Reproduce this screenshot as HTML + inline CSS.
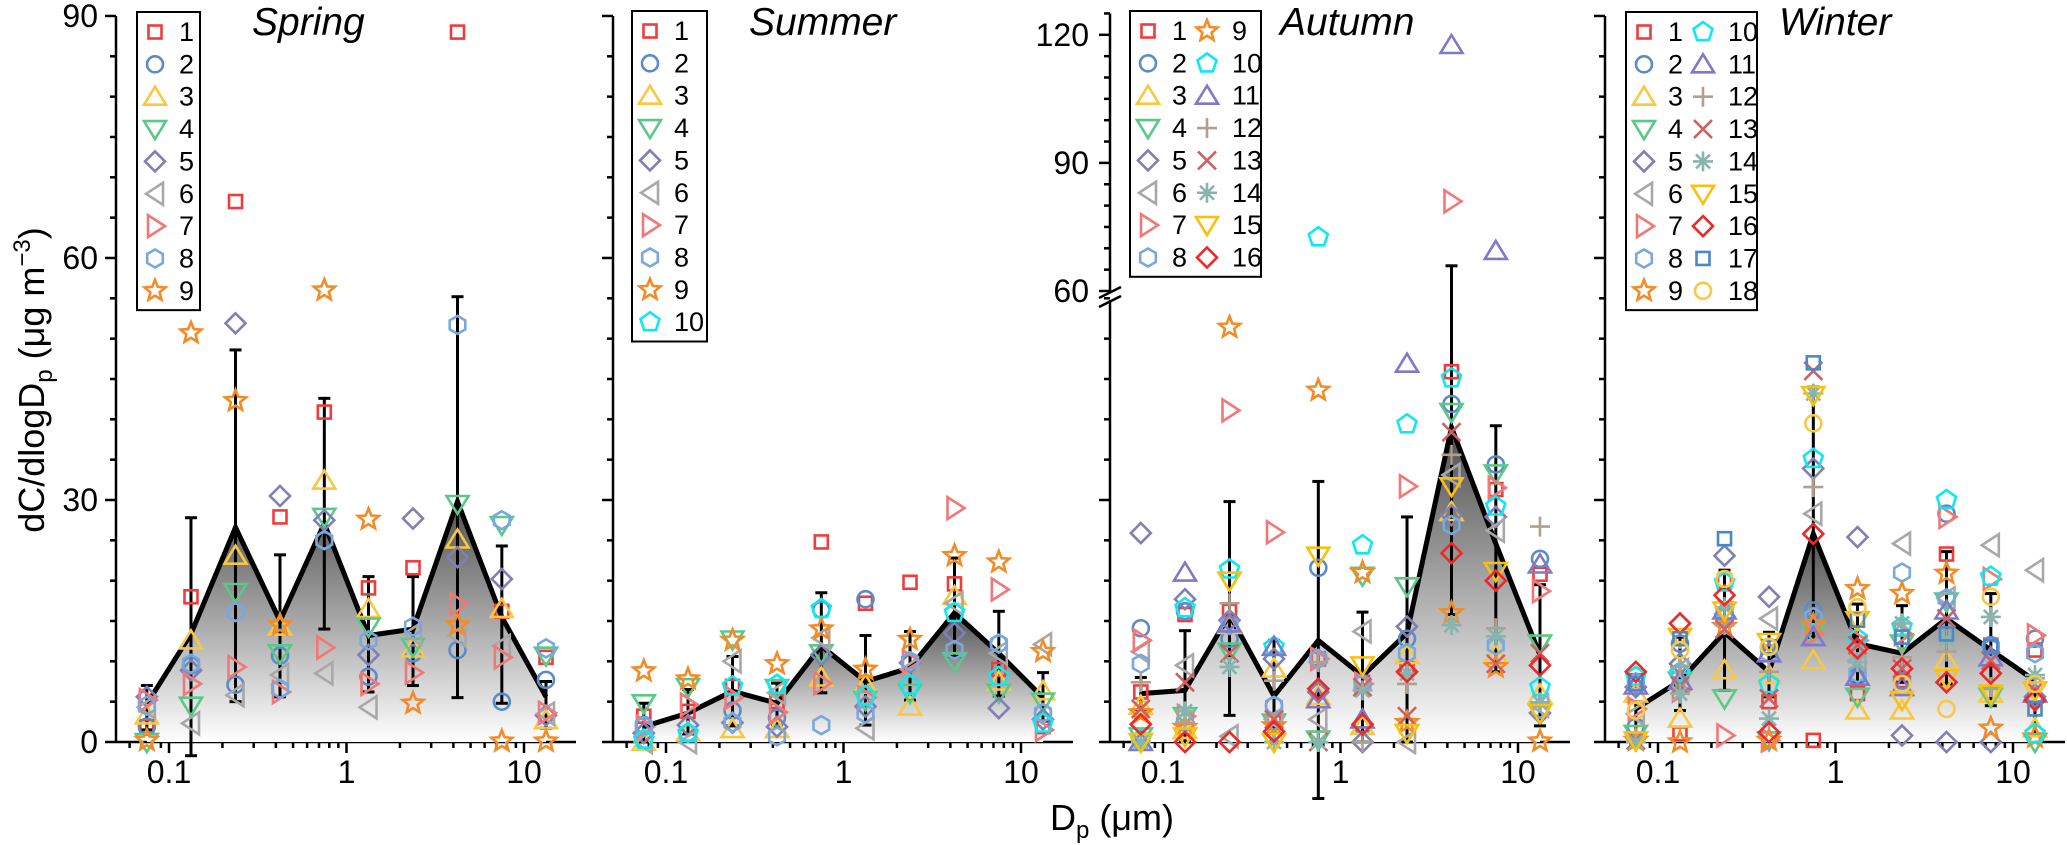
<!DOCTYPE html>
<html><head><meta charset="utf-8"><style>
html,body{margin:0;padding:0;background:#fff;}
svg{display:block;font-family:"Liberation Sans",sans-serif;}
</style></head><body>
<svg id="chart" width="2067" height="845" viewBox="0 0 2067 845" xmlns="http://www.w3.org/2000/svg">
<defs>
<linearGradient id="gSpring" gradientUnits="userSpaceOnUse" x1="0" y1="500" x2="0" y2="742"><stop offset="0" stop-color="#505050"/><stop offset="1" stop-color="#ffffff"/></linearGradient>
<linearGradient id="gSummer" gradientUnits="userSpaceOnUse" x1="0" y1="612" x2="0" y2="742"><stop offset="0" stop-color="#505050"/><stop offset="1" stop-color="#ffffff"/></linearGradient>
<linearGradient id="gAutumn" gradientUnits="userSpaceOnUse" x1="0" y1="430" x2="0" y2="742"><stop offset="0" stop-color="#505050"/><stop offset="1" stop-color="#ffffff"/></linearGradient>
<linearGradient id="gWinter" gradientUnits="userSpaceOnUse" x1="0" y1="534" x2="0" y2="742"><stop offset="0" stop-color="#505050"/><stop offset="1" stop-color="#ffffff"/></linearGradient>
</defs>
<text transform="translate(44,380) rotate(-90)" text-anchor="middle" font-size="36">dC/dlogD<tspan font-size="24" dy="8">p</tspan><tspan dy="-8"> (μg m</tspan><tspan font-size="24" dy="-14">−3</tspan><tspan dy="14">)</tspan></text>
<text x="1112" y="830" text-anchor="middle" font-size="36">D<tspan font-size="24" dy="8">p</tspan><tspan dy="-8"> (μm)</tspan></text>
</svg>
<script>
const BINS = [0.075,0.133,0.237,0.422,0.75,1.33,2.37,4.22,7.5,13.3];
const X_TICK_LABELS = ["0.1","1","10"];
const X_TICK_VALUES = [0.1,1,10];
const Y_TICK_LABELS_MAIN = ["0","30","60","90"];
const Y_TICK_VALUES_MAIN = [0,30,60,90];
const Y_TICK_LABELS_AUTUMN = ["60","90","120"];
const Y_TICK_VALUES_AUTUMN = [60,90,120];

const springMean  = [4.7,13.4,26.6,15.0,27.1,13.2,14.0,29.8,15.5,5.6];
const springUpper = [7,27.8,48.6,23.2,42.6,20.5,20.5,55.2,24.3,7.5];
const springLower = [1.5,-1.7,5.0,5.6,14.0,6.2,7.0,5.5,4.8,1.7];
const springSeries = [
 [1.9,18.0,67,27.9,40.9,19.1,21.6,88,16.2,10.5],
 [1.9,9.5,7.1,10.7,25,8.1,11,11.4,5,7.7],
 [3.3,12.6,23.1,14.3,32.4,16.5,11.6,25.1,16.5,2.7],
 [0,4.5,18.6,11,27.9,14.3,11.8,29.5,26.9,10.7],
 [5.6,8.9,51.9,30.5,27.5,10.8,27.7,22.9,20.2,3.3],
 [4.3,2.3,5.8,8.3,8.5,4.3,13.4,13.2,11.9,3.5],
 [5.2,7.2,9.3,6.2,11.7,7.2,8.6,17.1,10.5,3.6],
 [4.5,9.7,16.1,6.6,25,12.6,14.3,51.7,27.5,11.6],
 [0.2,50.7,42.3,14.5,56,27.6,4.8,14.5,0.1,0.1]
];

const summerMean  = [1.9,3.6,6.3,4.8,11.9,7.5,9.2,16.0,11.0,5.5];
const summerUpper = [4.8,6.5,10.6,7.3,18.5,13.2,13.7,22.8,16.2,8.6];
const summerLower = [0,1,2,2,6.1,2.1,5.2,10.6,5.7,2.6];
const summerSeries = [
 [3.2,3.8,6.9,5.0,24.8,17.2,19.8,19.6,9,1.9],
 [2.1,1.1,3.9,3,16.4,17.7,10,11.4,12.2,3.6],
 [0,1.2,1.6,1.6,8,7.1,4.4,18.1,7.5,6.3],
 [4.8,6.8,12.7,6.7,11,5.2,6.1,10,6.1,5],
 [1.1,2.1,2.4,1.9,10.8,4.4,9.8,13.5,4.2,2.8],
 [0,0,10,6.1,12.9,1.7,9,17.2,11,12.1],
 [1.9,4.6,5.5,3.7,7.3,5.5,10,29,18.9,1.5],
 [2,1.1,2.4,0.7,2.1,3.5,10,11.4,12.2,3.6],
 [8.8,7.8,12.6,9.7,14,9,12.7,23.1,22.3,11.2],
 [0.3,1.1,6.9,7.1,16.5,5.7,7,16,8.1,2.3]
];

const autumnMean  = [6.0,6.4,15.8,5.7,12.6,8.2,13.5,39.0,24.6,10.8];
const autumnUpper = [8,13.8,29.8,12.6,32.3,16.1,27.9,65.9,39.2,19.5];
const autumnLower = [4,0,3.3,0,-7,0,0,15.8,8.7,2];
const autumnSeries = [
 [6.2,15.8,16.2,2.4,10.3,7.4,9.1,45.9,31.3,20.8],
 [14.1,16.2,12.8,4.5,21.6,2,12.8,41.9,34.4,22.7],
 [4.5,1.5,14.5,9.1,5.7,2,10.8,28.5,10.8,5.9],
 [0.7,3.2,11.2,2.4,0.3,20.6,19.3,40.9,33.3,12.2],
 [25.9,17.7,15.1,10.3,6.2,0,14.3,28.1,27.9,3.6],
 [11.2,9.5,0.7,2.8,2.8,13.7,0,33.1,26.2,4.5],
 [12.6,3.2,41.1,26,10.3,7.2,31.7,81,31.5,18.7],
 [9.7,2.4,14.5,4.5,10.3,7.2,11,26.9,12,4.1],
 [3.6,1.8,51.4,2,43.6,21,2.4,16,9.3,0.1],
 [0.3,16.6,21.4,11.8,72.6,24.4,39.4,45.1,29.2,6.8],
 [0,21,14.7,11.8,5.3,2.8,46.9,117.6,69.4,22],
 [7.4,2.4,17.2,7.6,9.9,0,7.2,35.6,14.1,26.7],
 [4.1,7.4,11,2.8,0,6.8,3.2,38.4,9.7,11],
 [0,3.8,9.3,0,0,6.4,8.5,14.5,13.1,4.9],
 [0,0.7,20,0,23.1,9.5,1.1,31.7,21.2,3.6],
 [2.2,0,0,1.3,6.6,2.2,8.7,23.4,20,9.5]
];

const winterMean  = [4.1,7.6,13.6,8.7,25.8,12.2,11,15.3,11.4,7.6];
const winterUpper = [5,13,21.3,13.6,44,17.1,16.9,23.6,18.4,8];
const winterLower = [0,3.9,6.4,5.6,13,7.4,7.4,7.2,4.5,1];
const winterSeries = [
 [7.6,1,20,5,0.2,6,7.6,23.3,12,11.4],
 [1.9,12.2,15.9,11.8,16.3,8.1,7.6,28.3,12,12.8],
 [6,2.9,8.9,8.3,10.1,3.9,3.9,10.1,6,1.7],
 [1,7.6,5.4,0.2,13.6,5.6,12.2,17.4,5.6,0],
 [6.8,9.7,23.1,18,33.9,25.4,0.8,0,0,5.6],
 [3.5,8.9,15.9,15.3,28.3,10.1,24.6,17.8,24.4,21.3],
 [4.1,6.4,0.8,0.2,13.4,12.6,13.4,27.9,20.2,13.2],
 [7.4,8.7,15.9,11,15.5,8.5,21,17.8,11.6,11],
 [0.2,0,14.3,0.2,14.5,19,18.4,20.9,1.7,0.6],
 [8.1,8.5,19.8,7.2,35.1,12.8,14.3,30,20.5,1],
 [7,7.6,16.3,11,13,8.1,6.8,16.3,10.5,6],
 [0.4,9.3,14.5,8.7,31.6,9.9,10.5,11.2,6.8,7.9],
 [0.2,7,14,5.4,46,12,9.1,15.3,10.1,6.4],
 [0,6,16.7,2.9,43.2,9.9,14.7,12.8,15.5,8.3],
 [0.2,13,16.3,12.4,43,15.1,5.2,7.9,6,6.4],
 [8.7,14.7,18.2,1.2,25.8,11.6,9.1,7.4,8.5,5.2],
 [7.2,12.8,25.2,11.8,47,15.1,13,13.4,11.8,4.1],
 [3.9,11.4,20.2,11.8,39.5,16.7,7.2,4.1,18,7.2]
];

const MARKERS = ['square','circle','tri-up','tri-down','diamond','tri-left','tri-right','hexagon','star','pentagon','tri-up','plus','cross','asterisk','tri-down','diamond','square','circle'];
const COLORS = ['#f03c3c','#5b8cc8','#f8c840','#5cc888','#8080b4','#a8a8a8','#f27878','#78a8dc','#f28c28','#10e8f0','#8078c8','#b0a090','#d06060','#88b4b0','#f8c010','#ee2828','#4a88c8','#f8c848'];

const NS = 'http://www.w3.org/2000/svg';
const svg = document.getElementById('chart');
const DEC = 177.5, LOGMIN = -1.2986, PW = 460, Y0 = 742, K = 8.067;

function mk(tag, attrs, parent) {
  const e = document.createElementNS(NS, tag);
  for (const k in attrs) e.setAttribute(k, attrs[k]);
  (parent || svg).appendChild(e);
  return e;
}
function yMain(v) { return Y0 - v * K; }
function yAutumn(v) { return v <= 57.5 ? Y0 - v * K : 291 - (v - 60) * 4.27; }

function pts(arr) { return arr.map(p => p[0].toFixed(1) + ',' + p[1].toFixed(1)).join(' '); }
function drawMarker(g, type, cx, cy, color) {
  const st = {fill: 'none', stroke: color, 'stroke-width': 2.6, 'stroke-linejoin': 'miter'};
  let e;
  const poly = (p) => { const a = Object.assign({points: pts(p)}, st); return mk('polygon', a, g); };
  switch (type) {
    case 'square': e = mk('rect', Object.assign({x: cx - 6.5, y: cy - 6.5, width: 13, height: 13}, st), g); break;
    case 'circle': e = mk('circle', Object.assign({cx: cx, cy: cy, r: 8}, st), g); break;
    case 'tri-up': e = poly([[cx, cy - 10], [cx + 11, cy + 8], [cx - 11, cy + 8]]); break;
    case 'tri-down': e = poly([[cx - 11, cy - 8], [cx + 11, cy - 8], [cx, cy + 10]]); break;
    case 'tri-left': e = poly([[cx - 9, cy], [cx + 8, cy - 11], [cx + 8, cy + 11]]); break;
    case 'tri-right': e = poly([[cx + 10, cy], [cx - 7, cy - 11], [cx - 7, cy + 11]]); break;
    case 'diamond': e = poly([[cx, cy - 10], [cx + 10, cy], [cx, cy + 10], [cx - 10, cy]]); break;
    case 'hexagon': { const p = []; for (let i = 0; i < 6; i++) { const a = Math.PI / 6 + i * Math.PI / 3; p.push([cx + 9 * Math.cos(a), cy + 9 * Math.sin(a)]); } e = poly(p); break; }
    case 'pentagon': { const p = []; for (let i = 0; i < 5; i++) { const a = -Math.PI / 2 + i * 2 * Math.PI / 5; p.push([cx + 10 * Math.cos(a), cy + 10 * Math.sin(a)]); } e = poly(p); break; }
    case 'star': { const p = []; for (let i = 0; i < 10; i++) { const a = -Math.PI / 2 + i * Math.PI / 5; const r = i % 2 ? 4.8 : 11; p.push([cx + r * Math.cos(a), cy + r * Math.sin(a)]); } e = poly(p); break; }
    case 'plus': e = mk('path', Object.assign({d: `M${cx - 10},${cy}H${cx + 10}M${cx},${cy - 10}V${cy + 10}`}, st), g); break;
    case 'cross': e = mk('path', Object.assign({d: `M${cx - 9},${cy - 9}L${cx + 9},${cy + 9}M${cx - 9},${cy + 9}L${cx + 9},${cy - 9}`}, st), g); break;
    case 'asterisk': e = mk('path', Object.assign({d: `M${cx - 10},${cy}H${cx + 10}M${cx},${cy - 10}V${cy + 10}M${cx - 7},${cy - 7}L${cx + 7},${cy + 7}M${cx - 7},${cy + 7}L${cx + 7},${cy - 7}`}, st), g); break;
  }
  return e;
}

const panels = [
  {key: 'spring', title: 'Spring', x0: 116, titleX: 252, mean: springMean, up: springUpper, lo: springLower, series: springSeries, grad: 'gSpring', yf: yMain, leg: {x: 137, y: 12, w: 63, cols: 1}},
  {key: 'summer', title: 'Summer', x0: 613, titleX: 749, mean: summerMean, up: summerUpper, lo: summerLower, series: summerSeries, grad: 'gSummer', yf: yMain, leg: {x: 632, y: 11, w: 75, cols: 1}},
  {key: 'autumn', title: 'Autumn', x0: 1110, titleX: 1280, mean: autumnMean, up: autumnUpper, lo: autumnLower, series: autumnSeries, grad: 'gAutumn', yf: yAutumn, leg: {x: 1130, y: 11, w: 131, cols: 2}},
  {key: 'winter', title: 'Winter', x0: 1605, titleX: 1779, mean: winterMean, up: winterUpper, lo: winterLower, series: winterSeries, grad: 'gWinter', yf: yMain, leg: {x: 1626, y: 12, w: 131, cols: 2}}
];

panels.forEach((P, pi) => {
  const xf = d => P.x0 + (Math.log10(d) - LOGMIN) * DEC;
  const g = mk('g', {});
  
  

  const ax = mk('g', {stroke: '#000', 'stroke-width': 2.5, fill: 'none'}, g);
  
  
  mk('line', {x1: P.x0, y1: Y0, x2: P.x0 + PW, y2: Y0}, ax);
  for (let e = -2; e <= 1; e++) {
    for (let m = 1; m <= 9; m++) {
      const v = m * Math.pow(10, e);
      const lx = Math.log10(v);
      if (lx < LOGMIN || lx > LOGMIN + PW / DEC) continue;
      const x = xf(v);
      mk('line', {x1: x, y1: Y0, x2: x, y2: Y0 + (m === 1 ? 11 : 6)}, ax);
    }
  }
  X_TICK_VALUES.forEach((v, i) => {
    const t = mk('text', {x: xf(v), y: 783, 'text-anchor': 'middle', 'font-size': 32, fill: '#000', stroke: 'none'}, g);
    
    
    t.textContent = X_TICK_LABELS[i];
  });
  if (P.key === 'autumn') {
    mk('line', {x1: P.x0, y1: Y0, x2: P.x0, y2: 300}, ax);
    mk('line', {x1: P.x0, y1: 291, x2: P.x0, y2: 13.5}, ax);
    for (let v = 0; v <= 55; v += 5) { const y = yAutumn(v); mk('line', {x1: P.x0, y1: y, x2: P.x0 - (v % 30 === 0 ? 11 : 6), y2: y}, ax); }
    for (let v = 60; v <= 125; v += 5) { const y = yAutumn(v); mk('line', {x1: P.x0, y1: y, x2: P.x0 - (v % 30 === 0 ? 11 : 6), y2: y}, ax); }
    mk('line', {x1: P.x0 - 11, y1: 298, x2: P.x0 + 11, y2: 287}, ax);
    mk('line', {x1: P.x0 - 11, y1: 307, x2: P.x0 + 11, y2: 296}, ax);
    Y_TICK_VALUES_AUTUMN.forEach((v, i) => {
      const t = mk('text', {x: P.x0 - 21, y: yAutumn(v) + 11, 'text-anchor': 'end', 'font-size': 32, fill: '#000', stroke: 'none'}, g);
      
      
      t.textContent = Y_TICK_LABELS_AUTUMN[i];
    });
  } else {
    mk('line', {x1: P.x0, y1: Y0, x2: P.x0, y2: yMain(90)}, ax);
    for (let v = 0; v <= 90; v += 5) { const y = yMain(v); mk('line', {x1: P.x0, y1: y, x2: P.x0 - (v % 30 === 0 ? 11 : 6), y2: y}, ax); }
    if (pi === 0) {
      Y_TICK_VALUES_MAIN.forEach((v, i) => {
        const t = mk('text', {x: 98, y: yMain(v) + 11, 'text-anchor': 'end', 'font-size': 32, fill: '#000', stroke: 'none'}, g);
        
        
        t.textContent = Y_TICK_LABELS_MAIN[i];
      });
    }
  }

  const line = P.mean.map((v, i) => [xf(BINS[i]), P.yf(v)]);
  const area = mk('polygon', {points: pts([[line[0][0], Y0]].concat(line, [[line[line.length - 1][0], Y0]])), fill: 'url(#' + P.grad + ')', stroke: 'none'}, g);
  
  

  const eg = mk('g', {stroke: '#000', 'stroke-width': 3, fill: 'none'}, g);
  
  
  P.mean.forEach((v, i) => {
    const x = xf(BINS[i]);
    const yu = P.yf(P.up[i]), yl = P.yf(P.lo[i]);
    mk('line', {x1: x, y1: yu, x2: x, y2: yl}, eg);
    mk('line', {x1: x - 6, y1: yu, x2: x + 6, y2: yu}, eg);
    mk('line', {x1: x - 6, y1: yl, x2: x + 6, y2: yl}, eg);
  });

  const ml = mk('polyline', {points: pts(line), fill: 'none', stroke: '#000', 'stroke-width': 5, 'stroke-linejoin': 'miter'}, g);
  
  

  P.series.forEach((s, si) => {
    const sg = mk('g', {}, g);
    
    
    s.forEach((v, i) => {
      const m = drawMarker(sg, MARKERS[si], xf(BINS[i]), P.yf(v), COLORS[si]);
      
      
    });
  });

  const tt = mk('text', {x: P.titleX, y: 35, 'font-size': 39, 'font-style': 'italic', fill: '#000'}, g);
  
  
  tt.textContent = P.title;

  const L = P.leg, n = P.series.length, rows = L.cols === 1 ? n : Math.ceil(n / 2);
  const lg = mk('g', {}, g);
  
  
  mk('rect', {x: L.x, y: L.y, width: L.w, height: rows * 32.35 + 7, fill: '#fff', stroke: '#000', 'stroke-width': 2}, lg);
  for (let si = 0; si < n; si++) {
    const col = L.cols === 1 ? 0 : Math.floor(si / rows), row = si - col * rows;
    const cy = L.y + 20 + row * 32.35;
    const mx = L.x + 18 + col * 59;
    const ent = mk('g', {}, lg);
    
    
    drawMarker(ent, MARKERS[si], mx, cy, COLORS[si]);
    const t = mk('text', {x: L.x + (col === 0 ? 42 : 102), y: cy + 9, 'font-size': 27, fill: '#000'}, ent);
    t.textContent = String(si + 1);
  }
});
</script>
</body></html>
